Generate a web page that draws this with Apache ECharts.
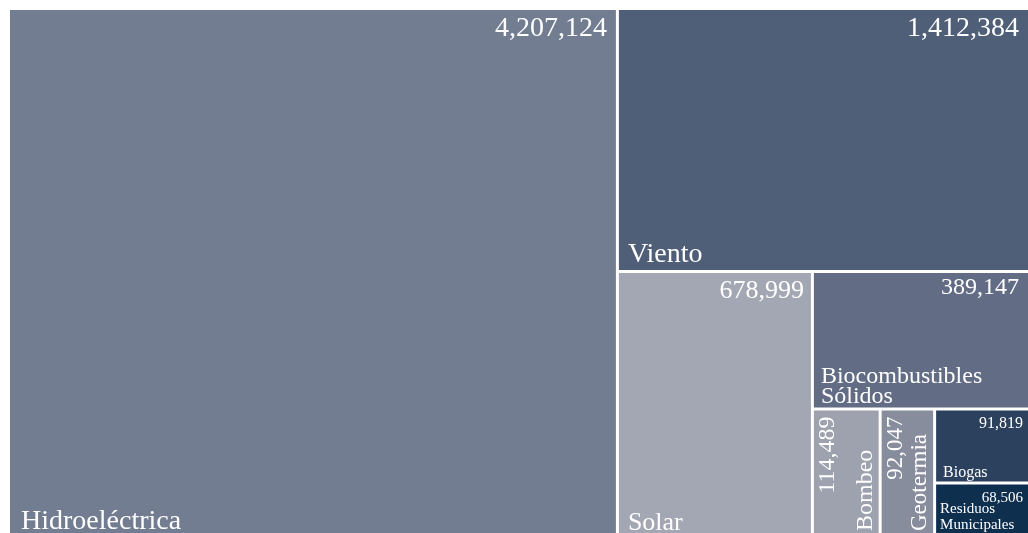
<!DOCTYPE html>
<html><head><meta charset="utf-8">
<script src="https://cdn.jsdelivr.net/npm/echarts@6/dist/echarts.min.js"></script>
<style>html,body{margin:0;padding:0;background:#fff;}#c{width:1028px;height:533px;}</style>
</head><body><div id="c"></div>
<script>
const categories = ['Hidroeléctrica','Viento','Solar','Biocombustibles\nSólidos','Bombeo','Geotermia','Biogas','Residuos\nMunicipales'];
const values = [4207124,1412384,678999,389147,114489,92047,91819,68506];
const colors = ['#737d91','#505f78','#a3a7b3','#626c84','#9ea2ae','#888d9d','#2b415e','#0f2f4f'];
const fontSizes = [28,28,26,24,24,23,16,15];
const lineHeights = [28,28,26,20,16,16,16,16];
const padLeft = [10,8,8,6,0,0,6,3];
const padRight = [8,8,6,8,0,0,4,4];
const padBottom = [0,0,0,0,0,0,0,3];
const rotated = [false,false,false,false,true,true,false,false];
const FONT = 'Liberation Serif';
const fmt = v => v.toLocaleString('en-US');

function valueLeaf(i){
  return {
    name:categories[i], value:values[i],
    itemStyle:{color:colors[i], borderWidth:1.5, borderColor:'#fff'},
    label: rotated[i] ? {
      show:true, formatter: fmt(values[i]), position:'insideTopLeft', align:'right', verticalAlign:'top',
      rotate:90, overflow:'none', fontSize:fontSizes[i], lineHeight:lineHeights[i], distance:1
    } : {
      show:true, formatter: fmt(values[i]), position:'insideTopRight', fontSize:fontSizes[i],
      lineHeight:lineHeights[i], overflow:'none', distance:1, padding:[4,padRight[i],0,0]
    }
  };
}
function nameLeaf(i){
  return {
    name:categories[i], value:values[i],
    itemStyle:{color:'rgba(0,0,0,0)', borderWidth:1.5, borderColor:'rgba(0,0,0,0)'},
    label: rotated[i] ? {
      show:true, position:'insideBottomRight', align:'left', verticalAlign:'bottom',
      rotate:90, overflow:'none', fontSize:fontSizes[i], lineHeight:14, distance:1
    } : {
      show:true, position:'insideBottomLeft', fontSize:fontSizes[i], lineHeight:lineHeights[i],
      overflow:'none', distance:1, padding:[0,0,padBottom[i],padLeft[i]]
    }
  };
}
// squarified chain: each level splits off the largest remaining item
function buildChain(i, leafFn, border){
  if (i === categories.length - 2) return [leafFn(i), leafFn(i+1)];
  return [leafFn(i), {
    name:'', label:{show:false},
    itemStyle:{borderWidth:0, gapWidth:0, borderColor:border, color:border},
    children: buildChain(i+1, leafFn, border)
  }];
}

const common = {
  type:'treemap', left:8.5, top:8.5, width:1021, height:530,
  roam:false, nodeClick:false, breadcrumb:{show:false}, animation:false,
  sort:false, visibleMin:0, squareRatio:1,
  label:{color:'#fff', fontFamily:FONT},
  upperLabel:{show:false}
};
const chart = echarts.init(document.getElementById('c'), null, {renderer:'canvas'});
chart.setOption({
  animation:false,
  tooltip:{show:false},
  series:[
    Object.assign({}, common, {
      z:2,
      data: buildChain(0, valueLeaf, '#fff'),
      itemStyle:{borderWidth:0, gapWidth:0, borderColor:'#fff'}
    }),
    Object.assign({}, common, {
      z:3,
      data: buildChain(0, nameLeaf, 'rgba(0,0,0,0)'),
      itemStyle:{borderWidth:0, gapWidth:0, borderColor:'rgba(0,0,0,0)'}
    })
  ]
});
</script></body></html>
